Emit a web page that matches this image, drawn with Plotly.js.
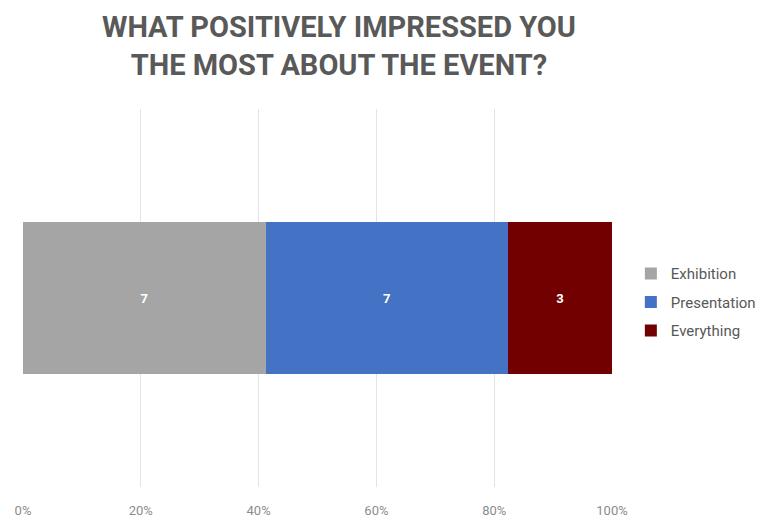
<!DOCTYPE html>
<html>
<head>
<meta charset="utf-8">
<script src="https://cdn.plot.ly/plotly-3.0.1.min.js"></script>
<style>html,body{margin:0;padding:0;background:#fff;}#chart{width:773px;height:521px;}</style>
</head>
<body>
<div id="chart"></div>
<script>
const categories = ["Responses"];
const seriesNames = ["Exhibition", "Presentation", "Everything"];
const exhibition = [7];
const presentation = [7];
const everything = [3];
const tickValues = [0, 20, 40, 60, 80, 100];
const tickLabels = ["0%", "20%", "40%", "60%", "80%", "100%"];
const colors = ["#A5A5A5", "#4472C4", "#720000"];

const seriesValues = [exhibition, presentation, everything];
const traces = seriesValues.map((vals, i) => ({
  type: "bar",
  orientation: "h",
  name: seriesNames[i],
  legendgroup: "g" + i,
  y: categories,
  x: vals,
  text: vals.map(String),
  textposition: "inside",
  insidetextanchor: "middle",
  textangle: 0,
  textfont: {family: "Roboto, sans-serif", size: 13, color: "#ffffff", weight: 700},
  marker: {color: colors[i], line: {width: 0}},
  hoverinfo: "skip"
}));

const layout = {
  width: 773,
  height: 521,
  barmode: "stack",
  barnorm: "percent",
  bargap: 0.6,
  paper_bgcolor: "#ffffff",
  plot_bgcolor: "#ffffff",
  margin: {l: 23, r: 161, t: 109, b: 34, pad: 0},
  title: {
    text: "WHAT POSITIVELY IMPRESSED YOU<br>THE MOST ABOUT THE EVENT?",
    font: {family: "Roboto, sans-serif", size: 29, color: "#595959", weight: 700},
    x: 0.4385,
    xanchor: "center",
    xref: "container",
    y: 0.929,
    yanchor: "top",
    yref: "container"
  },
  xaxis: {
    range: [0, 100],
    tickvals: tickValues,
    ticktext: tickLabels,
    showgrid: true,
    gridcolor: "#E3E3E3",
    gridwidth: 1,
    zeroline: false,
    showline: false,
    ticks: "",
    ticklabelstandoff: 14,
    tickfont: {family: "Roboto, sans-serif", size: 13, color: "#8C8C8C"},
    fixedrange: true
  },
  yaxis: {
    showticklabels: false,
    showgrid: false,
    zeroline: false,
    showline: false,
    ticks: "",
    fixedrange: true
  },
  showlegend: true,
  legend: {
    x: 1.032,
    xanchor: "left",
    y: 0.489,
    yanchor: "middle",
    traceorder: "grouped",
    tracegroupgap: 6,
    font: {family: "Roboto, sans-serif", size: 15, color: "#595959"},
    itemwidth: 30,
    bgcolor: "rgba(0,0,0,0)"
  }
};

Plotly.newPlot("chart", traces, layout, {displayModeBar: false, staticPlot: true});
</script>
</body>
</html>
